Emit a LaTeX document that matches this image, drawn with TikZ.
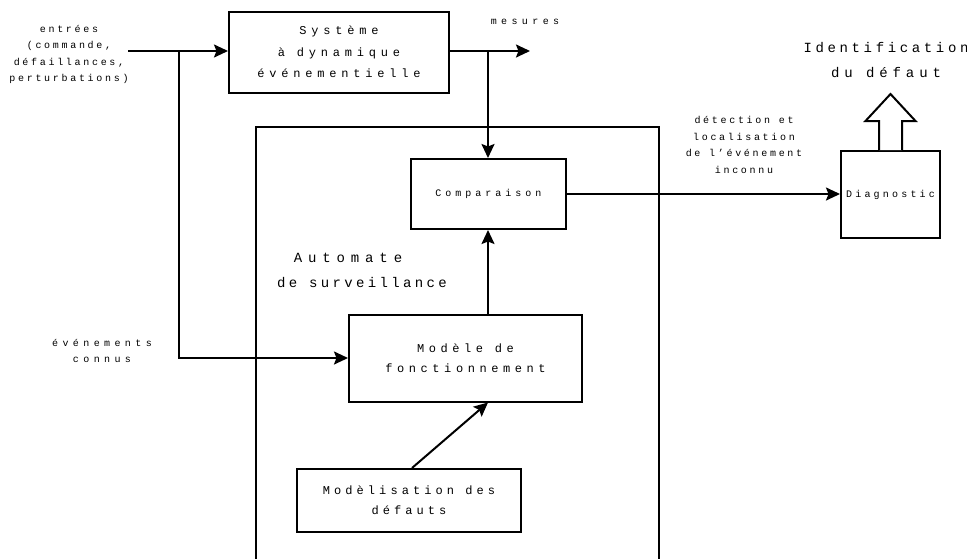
\documentclass[tikz,border=0pt]{standalone}
\usepackage{fontspec}
\usetikzlibrary{arrows.meta,calc}
\newfontfamily\cour{Liberation Mono}
\newcommand\lsp[3]{\fontsize{#1}{#2}\selectfont\addfontfeature{LetterSpace=#3}}
\begin{document}
\begin{tikzpicture}[x=1pt,y=-1pt,
  box/.style={draw, line width=2pt, inner sep=0pt, align=center},
  arr/.style={line width=2pt, -{Stealth[length=14pt,width=13pt,inset=2.5pt]}},
  ln/.style={line width=2pt},
  lbl/.style={align=center, inner sep=0pt}]
\useasboundingbox (0,0) rectangle (967,558);
\clip (0,0) rectangle (967,558);
% boxes
\node[box, minimum width=403pt, minimum height=460pt, anchor=north west] (auto) at (255,126) {};
\node[box, minimum width=220pt, minimum height=81pt, font={\cour\lsp{12}{21.5}{40}}] (sys) at (339,52) {Système\\à dynamique\\événementielle};
\node[box, fill=white, minimum width=155pt, minimum height=70pt, font={\cour\lsp{10}{12}{40}}] (comp) at (488.5,194) {Comparaison};
\node[box, minimum width=99pt, minimum height=87pt, font={\cour\lsp{10}{12}{32}}] (diag) at (890.5,194.5) {Diagnostic};
\node[box, fill=white, minimum width=233pt, minimum height=87pt, font={\cour\lsp{12}{20}{38}}] (mod) at (465.5,358) {Modèle de\\fonctionnement};
\node[box, minimum width=224pt, minimum height=63pt, font={\cour\lsp{12}{20}{34}}] (modl) at (409,500.5) {Modèlisation des\\défauts};
% labels
\node[lbl, font={\cour\lsp{10}{16.4}{27}}] (ent) at (69,54.5) {entrées\\(commande,\\défaillances,\\perturbations)};
\node[lbl, font={\cour\lsp{10}{12}{44}}] (mes) at (525,22) {mesures};
\node[lbl, font={\cour\lsp{10}{16.7}{27}}] (det) at (744,145) {détection et\\localisation\\de l’événement\\inconnu};
\node[lbl, font={\cour\lsp{10}{16}{44}}] (evt) at (102,351) {événements\\connus};
\node[lbl, font={\cour\lsp{14}{24.5}{26}}] (idf) at (886,60) {Identification\\{\addfontfeature{LetterSpace=35}du défaut}};
\node[lbl, font={\cour\lsp{14}{25}{24}}] (aut) at (362,270.5) {{\addfontfeature{LetterSpace=42}Automate}\hspace*{28pt}\\de surveillance};
% connectors
\coordinate (inp) at (128,51);
\coordinate (br1) at (179,51);
\coordinate (br2) at (488,51);
\coordinate (out) at (530,51);
\draw[arr] (inp) -- (sys.west |- inp);
\draw[ln] (br1) |- ([xshift=-20pt]mod.west);
\draw[arr] ([xshift=-21pt]mod.west) -- (mod.west);
\draw[arr] (sys.east |- out) -- (out);
\draw[arr] (br2) -- (br2 |- comp.north);
\draw[arr] (br2 |- mod.north) -- (br2 |- comp.south);
\draw[arr] ($(modl.north)+(3,0)$) -- (br2 |- mod.south);
\draw[arr] (comp.east) -- (diag.west |- comp.east);
% block arrow
\draw[line width=2pt, fill=white, line join=miter]
  ($(diag.north)+(-11.5,0)$) -- ++(0,-29) -- ++(-13.5,0) -- ($(diag.north)+(0,-56)$)
  -- ($(diag.north)+(25,-29)$) -- ++(-13.5,0) -- ($(diag.north)+(11.5,0)$);
\end{tikzpicture}
\end{document}
